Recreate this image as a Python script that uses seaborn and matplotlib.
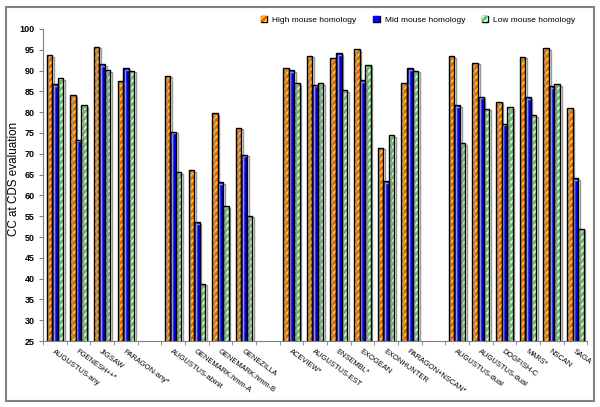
import numpy as np
import pandas as pd
import matplotlib
matplotlib.use('Agg')
import matplotlib.pyplot as plt
import matplotlib.patches as mpatches
import matplotlib.patheffects as pe
import seaborn as sns

# data ("" = empty slot between groups)
programs = ["AUGUSTUS-any", "FGENESH++*", "JIGSAW", "PARAGON-any*", "",
            "AUGUSTUS-abinit", "GENEMARK.hmm-A", "GENEMARK.hmm-B", "GENEZILLA", "",
            "ACEVIEW*", "AUGUSTUS-EST", "ENSEMBL*", "EXOGEAN", "EXONHUNTER",
            "PARAGON+NSCAN*", "",
            "AUGUSTUS-dual", "AUGUSTUS-dual", "DOGFISH-C", "MARS*", "NSCAN", "SAGA"]
high = [93.7, 84.1, 95.7, 87.5, np.nan,
        88.8, 66.0, 79.7, 76.3, np.nan,
        90.6, 93.6, 92.9, 95.2, 71.5, 86.9, np.nan,
        93.4, 91.9, 82.5, 93.3, 95.4, 80.9]
mid = [86.7, 73.4, 91.6, 90.5, np.nan,
       75.3, 53.6, 63.1, 69.8, np.nan,
       90.1, 86.6, 94.2, 87.7, 63.4, 90.5, np.nan,
       81.7, 83.7, 77.2, 83.6, 86.3, 64.2]
low = [88.1, 81.6, 90.1, 90.0, np.nan,
       65.5, 38.8, 57.4, 55.1, np.nan,
       87.0, 86.9, 85.3, 91.4, 74.4, 90.0, np.nan,
       72.5, 80.8, 81.2, 79.3, 86.8, 52.0]
series = ["High mouse homology", "Mid mouse homology", "Low mouse homology"]

slots = list(range(len(programs)))
df = pd.DataFrame({
    'slot': slots * 3,
    'series': np.repeat(series, len(programs)),
    'value': high + mid + low,
})

plt.rcParams['font.family'] = ['Liberation Sans', 'DejaVu Sans']
plt.rcParams['hatch.linewidth'] = 1.1

fig = plt.figure(figsize=(6, 4.07), dpi=100)
ax = fig.add_axes([0.0717, 0.162, 0.907, 0.767])

face = {series[0]: '#FF5A00', series[1]: '#0000FF', series[2]: '#5CCB5C'}
sns.barplot(data=df, x='slot', y='value', hue='series', order=slots,
            hue_order=series, palette=face, width=0.7, saturation=1,
            dodge=True, ax=ax, legend=False)

hatch_col = {0: '#FFE800', 2: '#FFFFFF'}
for i, cont in enumerate(ax.containers):
    for bar in cont:
        if np.isnan(bar.get_height()):
            continue
        if i in hatch_col:
            bar.set_hatch('/////')
            bar.set_edgecolor(hatch_col[i])
        bar.set_linewidth(0)
        outline = mpatches.Rectangle(bar.get_xy(), bar.get_width(), bar.get_height(),
                                     fill=False, edgecolor='black', lw=1.0, zorder=3)
        outline.set_path_effects([pe.SimpleLineShadow(offset=(1.2, -1.2), shadow_color='#999999', alpha=1),
                                  pe.Normal()])
        ax.add_patch(outline)

ax.set_ylim(25, 100)
ax.set_xlim(-0.5, len(programs) - 0.5)
ax.set_yticks(range(25, 101, 5))
ax.set_xticks(slots)
ax.set_xticklabels(programs, rotation=-36, ha='left', rotation_mode='anchor', fontsize=5.4)
ax.set_xticks(np.arange(-0.5, len(programs), 1), minor=True)
ax.tick_params(axis='x', which='major', length=0, pad=5)
ax.tick_params(axis='x', which='minor', length=3, color='#808080')
ax.tick_params(axis='y', length=3, color='#808080', labelsize=6.5, pad=3)
for t in ax.get_yticklabels():
    t.set_fontweight('bold')
ax.set_xlabel('')
ax.set_ylabel('CC at CDS evaluation', fontsize=8.4)
ax.yaxis.set_label_coords(-0.042, 0.519)
for s in ['top', 'right']:
    ax.spines[s].set_visible(False)
for s in ['left', 'bottom']:
    ax.spines[s].set_color('#808080')
ax.grid(False)

# legend above plot area
handles = []
for i, name in enumerate(series):
    h = mpatches.Patch(facecolor=face[name], edgecolor=hatch_col.get(i, face[name]),
                       hatch='/////' if i in hatch_col else None, lw=0)
    handles.append(h)
leg = fig.legend(handles, series, loc='center', bbox_to_anchor=(0.697, 0.951), ncol=3,
                 frameon=False, fontsize=6, handlelength=0.75, handleheight=0.75,
                 columnspacing=2.0, handletextpad=0.6)
for h in leg.legend_handles:
    h.set_path_effects([pe.withStroke(linewidth=1, foreground='black')])

# chart border
fig.patches.append(mpatches.Rectangle((0.01, 0.015), 0.98, 0.968, transform=fig.transFigure,
                                      fill=False, edgecolor='#808080', lw=1.5))

fig.savefig('out.png', dpi=100)
